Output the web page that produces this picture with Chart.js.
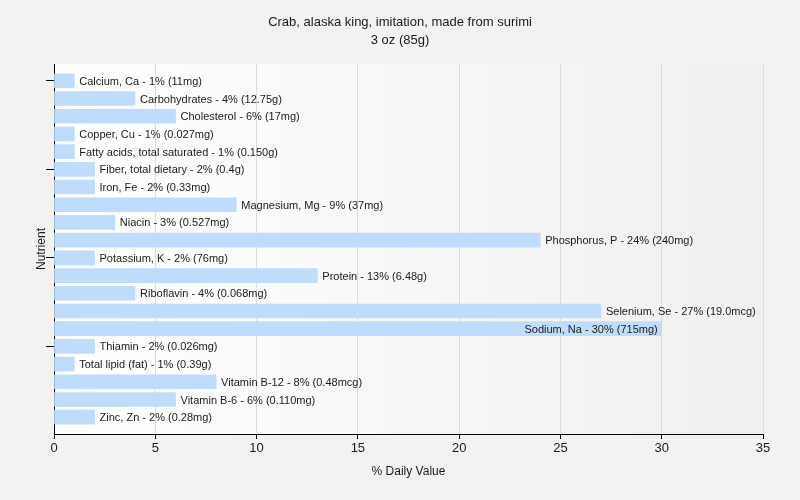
<!DOCTYPE html>
<html>
<head>
<meta charset="utf-8">
<script src="https://cdn.jsdelivr.net/npm/chart.js@4"></script>
<style>
html,body{margin:0;padding:0;background:#f2f2f1;}
#wrap{width:800px;height:500px;position:relative;}
</style>
</head>
<body>
<div id="wrap"><canvas id="c" width="800" height="500"></canvas></div>
<script>
const titleText = "Crab, alaska king, imitation, made from surimi";
const subtitleText = "3 oz (85g)";
const xAxisTitle = "% Daily Value";
const yAxisTitle = "Nutrient";
const nutrients = ["Calcium, Ca","Carbohydrates","Cholesterol","Copper, Cu","Fatty acids, total saturated","Fiber, total dietary","Iron, Fe","Magnesium, Mg","Niacin","Phosphorus, P","Potassium, K","Protein","Riboflavin","Selenium, Se","Sodium, Na","Thiamin","Total lipid (fat)","Vitamin B-12","Vitamin B-6","Zinc, Zn"];
const dailyValues = [1,4,6,1,1,2,2,9,3,24,2,13,4,27,30,2,1,8,6,2];
const amounts = ["11mg","12.75g","17mg","0.027mg","0.150g","0.4g","0.33mg","37mg","0.527mg","240mg","76mg","6.48g","0.068mg","19.0mcg","715mg","0.026mg","0.39g","0.48mcg","0.110mg","0.28mg"];
const xTicks = [0,5,10,15,20,25,30,35];
const yTickIdx = [0,5,10,15];

const FONT = "'Liberation Sans', Arial, sans-serif";

const points = dailyValues.map((v,i)=>({x:v,y:i}));

const bgPlugin = {
  id:'bg',
  beforeDraw(chart){
    const ctx = chart.ctx, a = chart.chartArea;
    ctx.save();
    ctx.fillStyle = '#f2f2f1';
    ctx.fillRect(0,0,chart.width,chart.height);
    const g = ctx.createLinearGradient(a.left,0,a.right,0);
    g.addColorStop(0,'#ffffff');
    g.addColorStop(1,'#f0f0ef');
    ctx.fillStyle = g;
    ctx.fillRect(a.left,a.top,a.right-a.left,a.bottom-a.top);
    ctx.restore();
  },
  afterDraw(chart){
    const ctx = chart.ctx, a = chart.chartArea;
    ctx.save();
    ctx.fillStyle = '#1a1a1a';
    ctx.font = '13px ' + FONT;
    ctx.textAlign = 'center';
    ctx.textBaseline = 'middle';
    ctx.fillText(titleText, 400, 22);
    ctx.fillText(subtitleText, 400, 40);
    ctx.font = '12px ' + FONT;
    ctx.fillText(xAxisTitle, (a.left+a.right)/2, 472);
    ctx.translate(42, (a.top+a.bottom)/2);
    ctx.rotate(-Math.PI/2);
    ctx.fillText(yAxisTitle, 0, 0);
    ctx.restore();
  }
};

const labelPlugin = {
  id:'barLabels',
  afterDatasetsDraw(chart){
    const ctx = chart.ctx, a = chart.chartArea;
    const meta = chart.getDatasetMeta(0);
    ctx.save();
    ctx.font = '11px ' + FONT;
    ctx.fillStyle = '#1a1a1a';
    ctx.textBaseline = 'middle';
    meta.data.forEach((bar,i)=>{
      const txt = nutrients[i] + ' - ' + dailyValues[i] + '% (' + amounts[i] + ')';
      const w = ctx.measureText(txt).width;
      if (bar.x + 5 + w > a.right) {
        ctx.textAlign = 'right';
        ctx.fillText(txt, bar.x - 4, bar.y + 1);
      } else {
        ctx.textAlign = 'left';
        ctx.fillText(txt, bar.x + 5, bar.y + 1);
      }
    });
    ctx.restore();
  }
};

new Chart(document.getElementById('c'), {
  type:'bar',
  data:{
    datasets:[{
      data:points,
      backgroundColor:'#c0dcfc',
      borderWidth:0,
      barThickness:14
    }]
  },
  options:{
    indexAxis:'y',
    responsive:false,
    animation:false,
    layout:{padding:{top:64,right:37,left:0,bottom:0}},
    plugins:{legend:{display:false},title:{display:false},tooltip:{enabled:false}},
    scales:{
      x:{
        type:'linear',
        min:0,max:35,
        afterBuildTicks(s){ s.ticks = xTicks.map(v=>({value:v})); },
        afterFit(s){ s.height = 66; },
        grid:{color:'#dcdcdc',tickColor:'#000',tickLength:5,drawOnChartArea:true},
        border:{display:true,color:'#000',width:1},
        ticks:{font:{size:13,family:FONT},color:'#1a1a1a',padding:2,maxRotation:0}
      },
      y:{
        type:'linear',
        reverse:true,
        offset:false,
        min:-0.95,max:19.95,
        afterBuildTicks(s){ s.ticks = yTickIdx.map(v=>({value:v})); },
        afterFit(s){ s.width = 54; },
        grid:{drawOnChartArea:false,offset:false,tickColor:'#000',tickLength:8},
        border:{display:true,color:'#000',width:1},
        ticks:{callback:()=>'',padding:0}
      }
    }
  },
  plugins:[bgPlugin,labelPlugin]
});
</script>
</body>
</html>
